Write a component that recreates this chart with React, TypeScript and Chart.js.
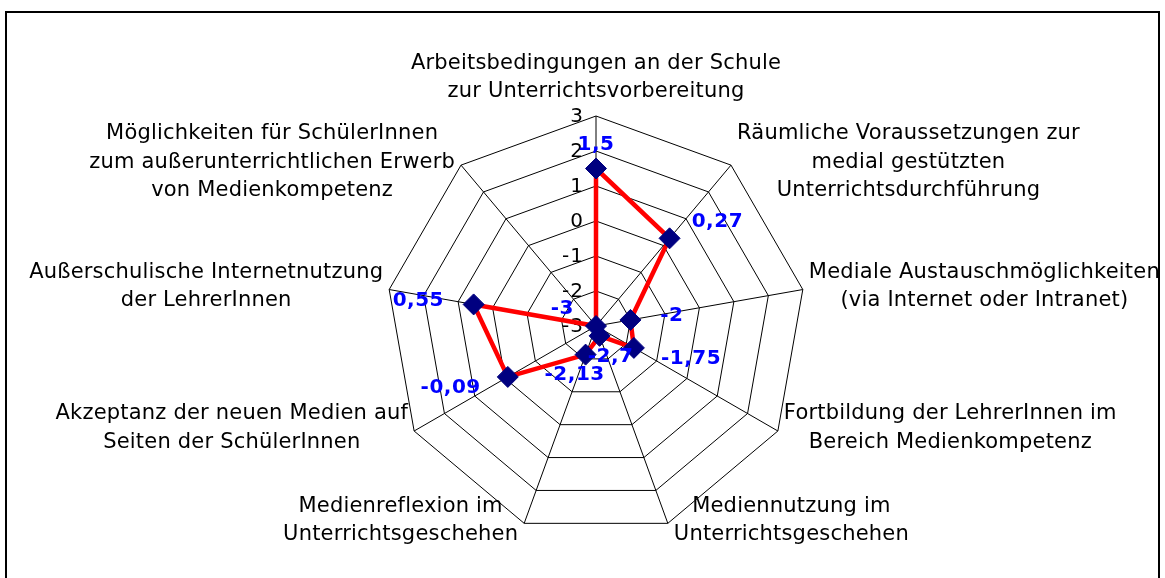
import { useEffect, useRef } from 'react';
import { Chart, registerables } from 'chart.js';

Chart.register(...registerables);

const categories: string[][] = [
  ['Arbeitsbedingungen an der Schule', 'zur Unterrichtsvorbereitung'],
  ['Räumliche Voraussetzungen zur', 'medial gestützten', 'Unterrichtsdurchführung'],
  ['Mediale Austauschmöglichkeiten', '(via Internet oder Intranet)'],
  ['Fortbildung der LehrerInnen im', 'Bereich Medienkompetenz'],
  ['Mediennutzung im', 'Unterrichtsgeschehen'],
  ['Medienreflexion im', 'Unterrichtsgeschehen'],
  ['Akzeptanz der neuen Medien auf', 'Seiten der SchülerInnen'],
  ['Außerschulische Internetnutzung', 'der LehrerInnen'],
  ['Möglichkeiten für SchülerInnen', 'zum außerunterrichtlichen Erwerb', 'von Medienkompetenz'],
];

const values: number[] = [1.5, 0.27, -2, -1.75, -2.7, -2.13, -0.09, 0.55, -3];

const tickValues: number[] = [-3, -2, -1, 0, 1, 2, 3];

const fmt = (v: number) => String(v).replace('.', ',');

const overlay = {
  id: 'overlay',
  beforeDraw(chart: any) {
    const ctx = chart.ctx;
    ctx.save();
    ctx.fillStyle = '#fff';
    ctx.fillRect(0, 0, chart.width, chart.height);
    ctx.strokeStyle = '#000';
    ctx.lineWidth = 2;
    ctx.strokeRect(6, 12, 1153, 700);
    ctx.restore();
  },
  beforeDatasetsDraw(chart: any) {
    const ctx = chart.ctx;
    const scale = chart.scales.r;
    const cx = scale.xCenter;
    const cy = scale.yCenter;
    ctx.save();
    ctx.font = '20px "DejaVu Sans"';
    (ctx as any).letterSpacing = '1px';
    ctx.fillStyle = '#000';
    ctx.textAlign = 'right';
    ctx.textBaseline = 'middle';
    tickValues.forEach((v) => {
      const d = scale.getDistanceFromCenterForValue(v);
      ctx.fillText(String(v), cx - 12, cy - d + 1);
    });
    ctx.restore();
  },
  afterDraw(chart: any) {
    const ctx = chart.ctx;
    const scale = chart.scales.r;
    ctx.save();
    // category labels
    ctx.font = '21px "DejaVu Sans"';
    (ctx as any).letterSpacing = '0.2px';
    ctx.fillStyle = '#000';
    ctx.textAlign = 'center';
    ctx.textBaseline = 'middle';
    const lh = 28.5;
    categories.forEach((lines, i) => {
      const p = scale.getPointPosition(i, scale.drawingArea);
      const ang = scale.getIndexAngle(i);
      const s = Math.sin(ang);
      const w = Math.max(...lines.map((l) => ctx.measureText(l).width));
      const h = lines.length * lh;
      let x: number;
      let top: number;
      if (Math.abs(s) < 0.1) {
        x = p.x;
        top = p.y - 10 - h;
      } else {
        x = s > 0 ? p.x + 6 + w / 2 : p.x - 6 - w / 2;
        top = p.y - 3 - h / 2;
      }
      lines.forEach((l, k) => ctx.fillText(l, x, top + lh * (k + 0.5)));
    });
    // data labels
    const meta = chart.getDatasetMeta(0);
    ctx.font = 'bold 20px "DejaVu Sans"';
    (ctx as any).letterSpacing = '0.5px';
    ctx.fillStyle = '#0000FF';
    ctx.textBaseline = 'middle';
    meta.data.forEach((el: any, i: number) => {
      const ang = scale.getIndexAngle(i);
      const s = Math.sin(ang);
      const c = Math.cos(ang);
      let x = el.x + s * 22;
      const y = el.y - c * 22;
      if (s > 0.5) {
        ctx.textAlign = 'left';
        x += 8;
      } else if (s < -0.5) {
        ctx.textAlign = 'right';
        x -= 8;
      } else {
        ctx.textAlign = 'center';
        x += s * 10;
      }
      ctx.fillText(fmt(values[i]), x, y - (Math.abs(s) < 0.1 ? 2 : 0));
    });
    ctx.restore();
  },
};

export default function App() {
  const ref = useRef<HTMLCanvasElement | null>(null);
  useEffect(() => {
    if (!ref.current) return;
    const chart = new Chart(ref.current, {
      type: 'radar',
      data: {
        labels: categories.map((c) => c.join(' ')),
        datasets: [
          {
            data: values,
            borderColor: '#FF0000',
            borderWidth: 4.5,
            backgroundColor: 'rgba(0,0,0,0)',
            fill: false,
            pointStyle: 'rectRot',
            pointRadius: 10.5,
            pointHoverRadius: 10.5,
            pointBackgroundColor: '#000080',
            pointBorderColor: '#000080',
            pointBorderWidth: 1,
          },
        ],
      },
      options: {
        responsive: false,
        animation: false,
        layout: { padding: { left: 386, right: 359, top: 116, bottom: 42 } },
        plugins: {
          legend: { display: false },
          tooltip: { enabled: false },
        },
        scales: {
          r: {
            min: -3,
            max: 3,
            ticks: { stepSize: 1, display: false },
            grid: { color: '#000', lineWidth: 1 },
            angleLines: { color: '#000', lineWidth: 1 },
            pointLabels: { display: false },
          },
        },
      },
      plugins: [overlay],
    });
    return () => chart.destroy();
  }, []);
  return (
    <div style={{ position: 'absolute', left: 0, top: 0, width: 1165, height: 578 }}>
      <canvas ref={ref} width={1165} height={578} />
    </div>
  );
}
